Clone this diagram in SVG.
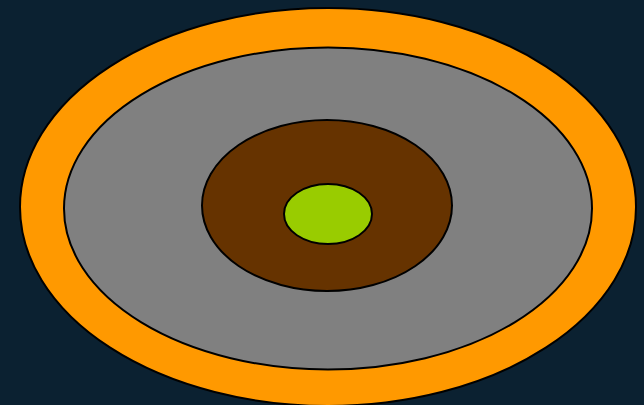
<svg xmlns="http://www.w3.org/2000/svg" width="644" height="405" viewBox="0 0 644 405">
<style>
.e{stroke:#000;stroke-width:2}
</style>
<rect width="644" height="405" fill="#0b2131"/>
<g id="outer"><ellipse class="e" cx="328" cy="207" rx="308" ry="199" fill="#ff9900"/></g>
<g id="gray"><ellipse class="e" cx="328" cy="208.5" rx="264" ry="161" fill="#808080"/></g>
<g id="brown"><ellipse class="e" cx="327" cy="205.5" rx="125" ry="85.5" fill="#663300"/></g>
<g id="green"><ellipse class="e" cx="328" cy="214" rx="44" ry="30" fill="#99cc00"/></g>
</svg>
